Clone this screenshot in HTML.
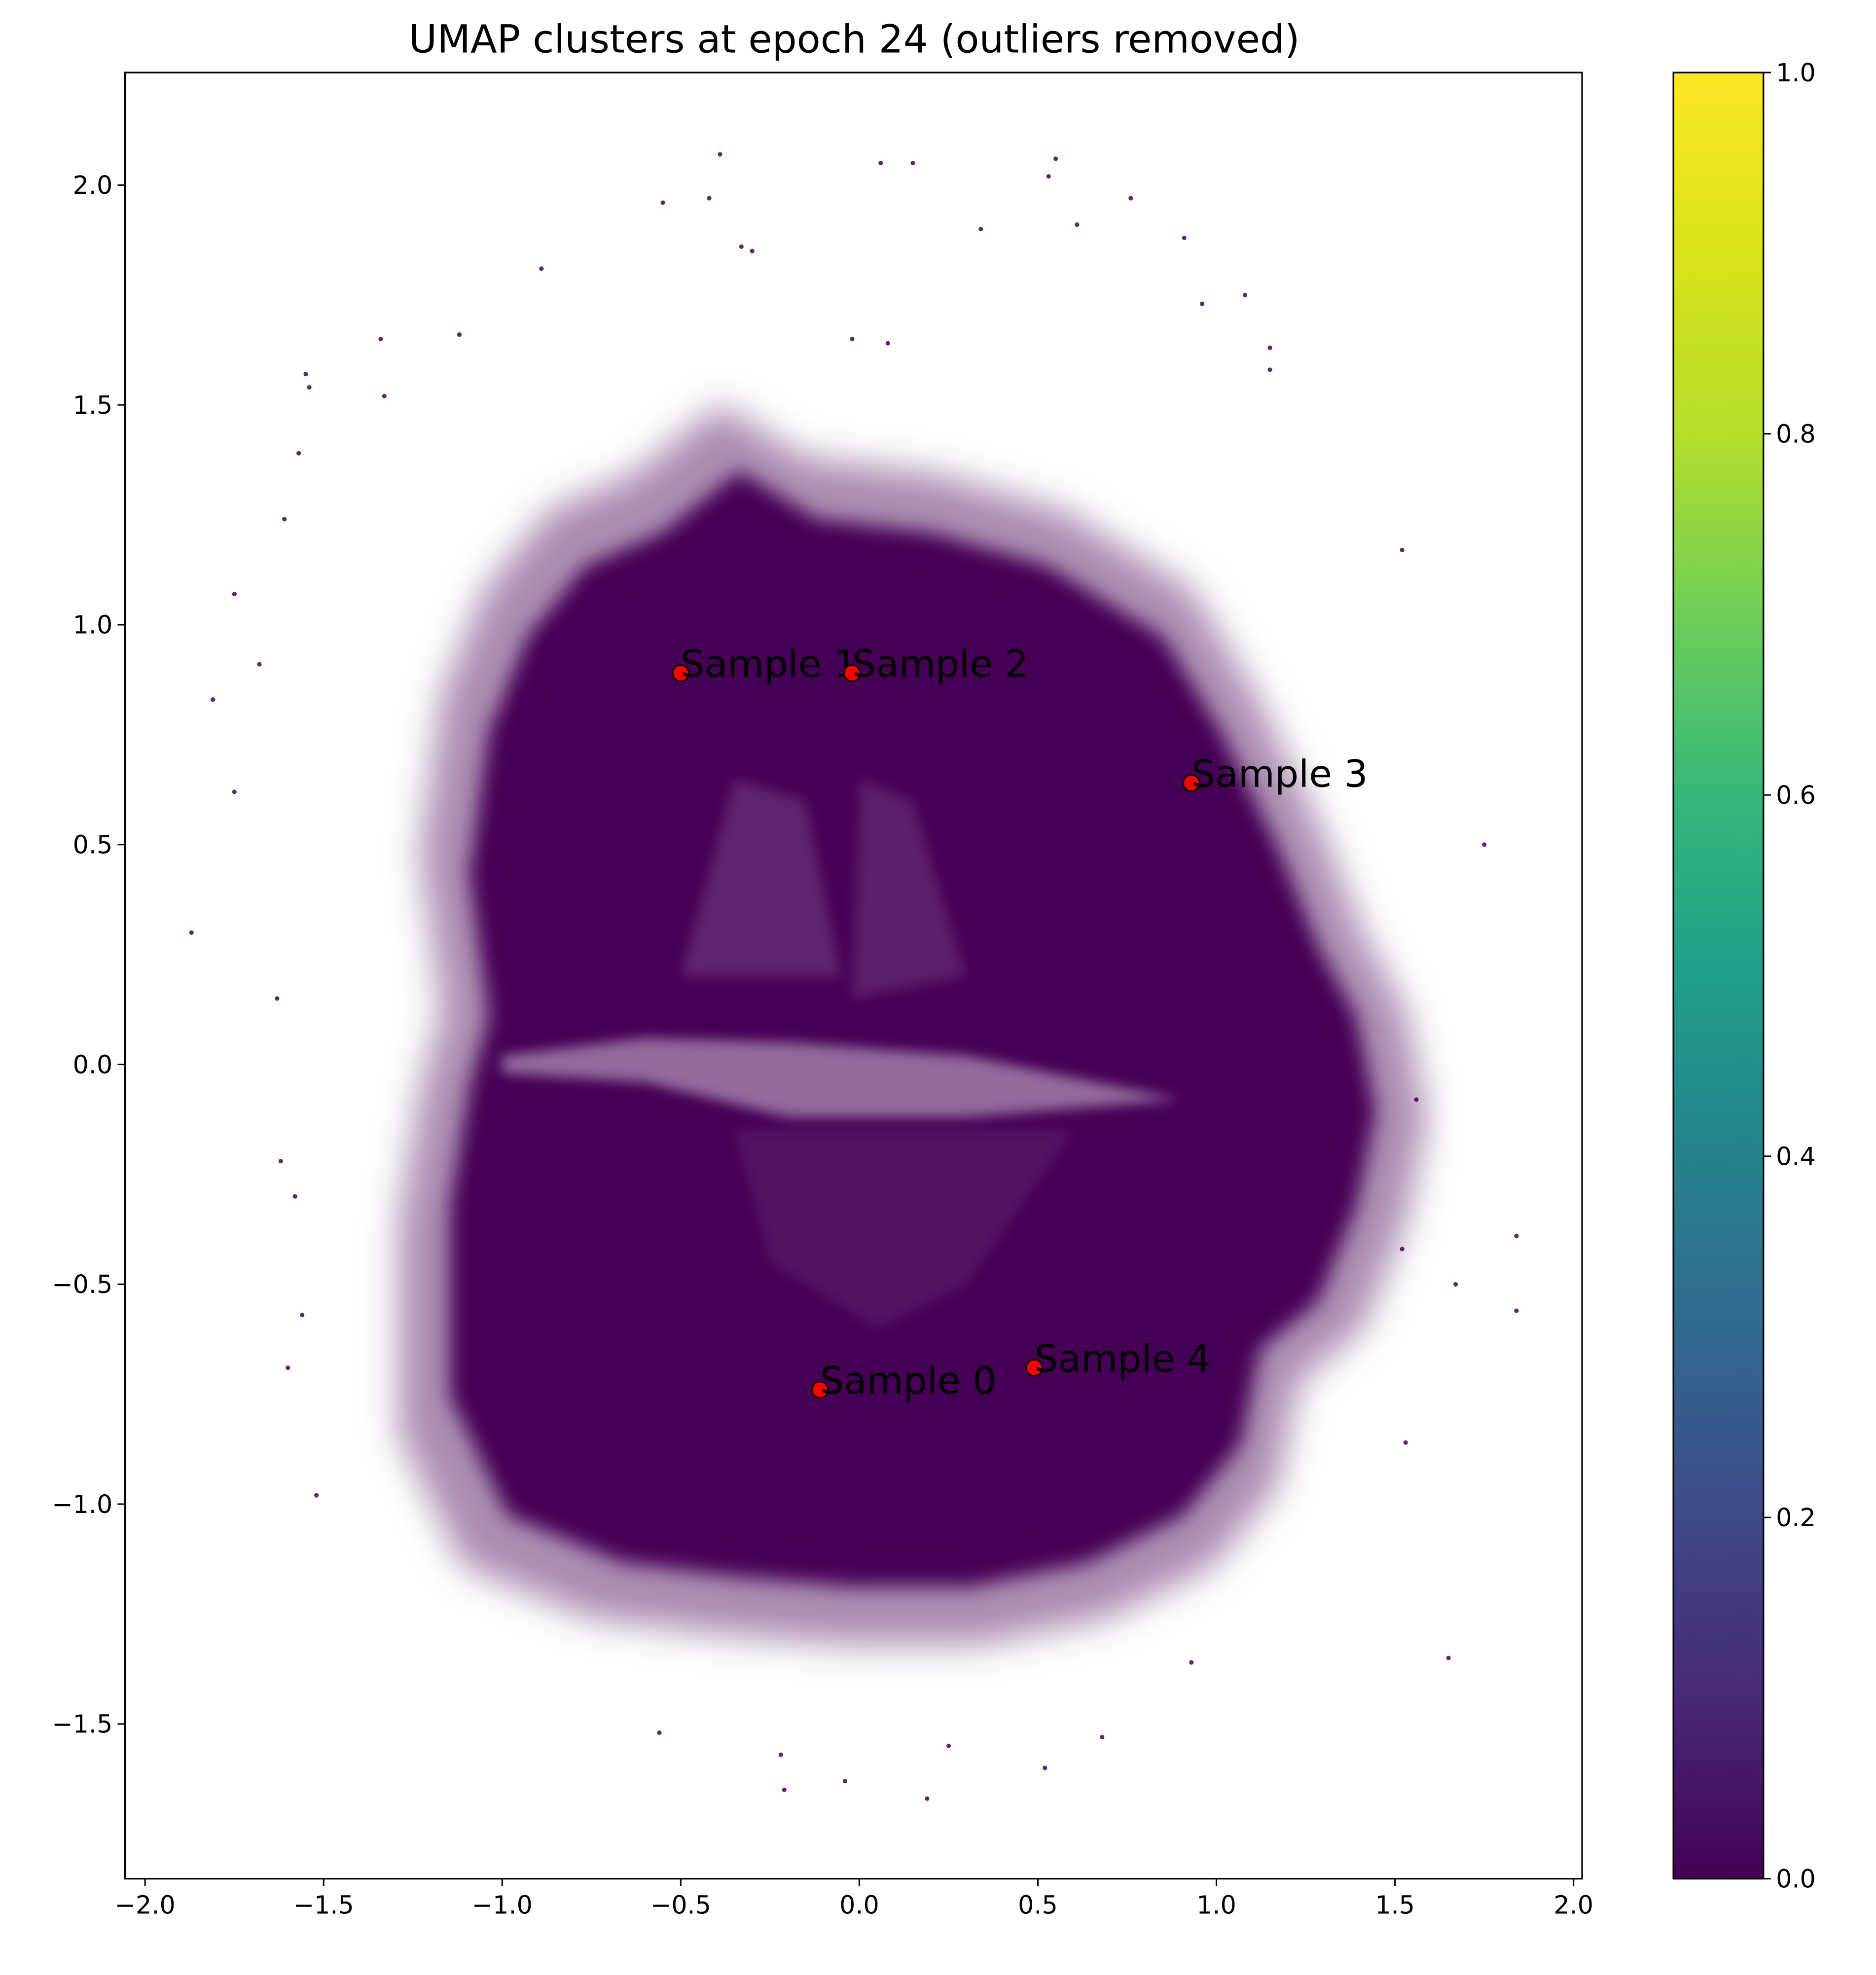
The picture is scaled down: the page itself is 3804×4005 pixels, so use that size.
<!DOCTYPE html>
<html><head><meta charset="utf-8"><style>
html,body{margin:0;padding:0;background:#fff;}
svg{display:block;}
text{font-family:"DejaVu Sans","Liberation Sans",sans-serif;}
</style></head><body>
<svg id="chart" width="3804" height="4005" viewBox="0 0 1500 1579" preserveAspectRatio="none" xmlns="http://www.w3.org/2000/svg">
<defs>
<filter id="blurHalo" x="-20%" y="-20%" width="140%" height="140%"><feGaussianBlur stdDeviation="8"/></filter>
<filter id="blurHalo2" x="-20%" y="-20%" width="140%" height="140%"><feGaussianBlur stdDeviation="14"/></filter>
<filter id="blurCore" x="-10%" y="-10%" width="120%" height="120%"><feGaussianBlur stdDeviation="3"/></filter>
<filter id="blurLight" x="-20%" y="-20%" width="140%" height="140%"><feGaussianBlur stdDeviation="5"/></filter>
<clipPath id="plotClip"><rect x="100" y="58" width="1165" height="1444"/></clipPath>
<linearGradient id="viridis" x1="0" y1="1" x2="0" y2="0">
<stop offset="0" stop-color="#440154"/><stop offset="0.1" stop-color="#482878"/><stop offset="0.2" stop-color="#3e4989"/>
<stop offset="0.3" stop-color="#31688e"/><stop offset="0.4" stop-color="#26828e"/><stop offset="0.5" stop-color="#1f9e89"/>
<stop offset="0.6" stop-color="#35b779"/><stop offset="0.7" stop-color="#6ece58"/><stop offset="0.8" stop-color="#b5de2b"/>
<stop offset="0.9" stop-color="#d8e219"/><stop offset="1" stop-color="#fde725"/>
</linearGradient>
</defs>
<rect x="0" y="0" width="1500" height="1579" fill="#fff"/>
<text x="683" y="42" font-size="31" text-anchor="middle">UMAP clusters at epoch 24 (outliers removed)</text>
<g id="plot" clip-path="url(#plotClip)"></g>
<rect x="100" y="58" width="1165" height="1444" fill="none" stroke="#000" stroke-width="1.3"/>
<g id="xticks"></g>
<g id="yticks"></g>
<rect x="1338" y="58" width="72" height="1444" fill="url(#viridis)" stroke="#000" stroke-width="1.3"/>
<g id="cbticks"></g>
</svg>
<script>
// axis ranges
const xDomain = [-2.056, 2.024];
const yDomain = [-1.852, 2.256];
const xTicks = [-2.0, -1.5, -1.0, -0.5, 0.0, 0.5, 1.0, 1.5, 2.0];
const yTicks = [-1.5, -1.0, -0.5, 0.0, 0.5, 1.0, 1.5, 2.0];
const cbTicks = [0.0, 0.2, 0.4, 0.6, 0.8, 1.0];
// dense cluster outline (data coords)
const coreX = [-0.95,-1.0,-0.95,-0.85,-0.7,-0.5,-0.3,-0.1,0.2,0.5,0.8,0.95,1.1,1.2,1.3,1.35,1.3,1.2,1.05,1.0,0.85,0.6,0.3,0.0,-0.3,-0.6,-0.9,-1.05,-1.05,-1.0];
const coreY = [0.1,0.4,0.7,0.9,1.05,1.12,1.25,1.15,1.12,1.05,0.9,0.7,0.45,0.25,0.1,-0.1,-0.3,-0.5,-0.6,-0.8,-0.95,-1.05,-1.1,-1.1,-1.08,-1.05,-0.95,-0.7,-0.3,-0.05];
// lighter (sparser) interior regions
const gapX = [-1.0,-0.6,-0.2,0.3,0.9,0.3,-0.2,-0.6,-1.0];
const gapY = [0.02,0.06,0.05,0.02,-0.08,-0.12,-0.12,-0.04,-0.02];
const innerLX = [-0.35,-0.15,-0.05,-0.5];
const innerLY = [0.65,0.6,0.2,0.2];
const innerRX = [0.0,0.15,0.3,-0.02];
const innerRY = [0.65,0.6,0.2,0.15];
const lowMidX = [-0.35,0.6,0.3,0.05,-0.25];
const lowMidY = [-0.15,-0.15,-0.5,-0.6,-0.45];
// sparse outlier points
const outX = [-0.39,-0.55,-0.42,-0.30,-0.33,-0.89,-1.34,-1.55,-1.54,-1.33,-1.57,-1.61,-1.75,-1.81,-1.87,-1.75,-1.68,-1.63,-1.62,-1.58,-1.56,-1.52,-1.60,0.06,0.15,0.55,0.53,0.34,0.61,0.76,0.91,1.08,0.96,1.15,1.15,1.52,1.67,1.75,1.84,1.84,1.65,1.53,1.56,1.52,0.52,0.25,-0.22,-0.56,0.68,-0.21,-0.04,0.19,0.93,-1.12,-0.02,0.08];
const outY = [2.07,1.96,1.97,1.85,1.86,1.81,1.65,1.57,1.54,1.52,1.39,1.24,1.07,0.83,0.30,0.62,0.91,0.15,-0.22,-0.30,-0.57,-0.98,-0.69,2.05,2.05,2.06,2.02,1.90,1.91,1.97,1.88,1.75,1.73,1.63,1.58,-0.42,-0.50,0.50,-0.39,-0.56,-1.35,-0.86,-0.08,1.17,-1.60,-1.55,-1.57,-1.52,-1.53,-1.65,-1.63,-1.67,-1.36,1.66,1.65,1.64];
// highlighted samples
const sampleNames = ["Sample 0","Sample 1","Sample 2","Sample 3","Sample 4"];
const sampleX = [-0.11,-0.50,-0.02,0.93,0.49];
const sampleY = [-0.74,0.89,0.89,0.64,-0.69];

const NS = "http://www.w3.org/2000/svg";
const PL=100, PR=1265, PT=58, PB=1502;
const sx = v => PL + (v - xDomain[0]) / (xDomain[1]-xDomain[0]) * (PR-PL);
const sy = v => PB - (v - yDomain[0]) / (yDomain[1]-yDomain[0]) * (PB-PT);
const cy = v => PB - v * (PB-PT);
function mk(tag, attrs, parent){const e=document.createElementNS(NS,tag);for(const k in attrs)e.setAttribute(k,attrs[k]);parent.appendChild(e);return e;}
function pts(xs,ys,scale,cx0,cy0){return xs.map((x,i)=>{const X=cx0+(x-cx0)*scale, Y=cy0+(ys[i]-cy0)*scale;return sx(X).toFixed(1)+","+sy(Y).toFixed(1);}).join(" ");}

const plot=document.getElementById("plot");
const halo2=mk("polygon",{points:pts(coreX,coreY,1.2,0.15,0),fill:"#440154","fill-opacity":"0.45",filter:"url(#blurHalo2)"},plot);


const halo=mk("polygon",{points:pts(coreX,coreY,1.08,0.15,0),fill:"#440154","fill-opacity":"1",filter:"url(#blurHalo)"},plot);


const core=mk("polygon",{points:pts(coreX,coreY,1,0,0),fill:"#440154",filter:"url(#blurCore)"},plot);


[[gapX,gapY,0.42,'gap-band'],[innerLX,innerLY,0.14,'inner-left-region'],[innerRX,innerRY,0.12,'inner-right-region'],[lowMidX,lowMidY,0.08,'lower-mid-region']].forEach(r=>{
  const p=mk("polygon",{points:pts(r[0],r[1],1,0,0),fill:"#fff","fill-opacity":r[2],filter:"url(#blurLight)"},plot);
  
  
});
outX.forEach((x,i)=>{
  const c=mk("circle",{cx:sx(x).toFixed(1),cy:sy(outY[i]).toFixed(1),r:1.8,fill:"#440154","fill-opacity":"0.85"},plot);
  
  
});
const svg=document.getElementById("chart");
sampleX.forEach((x,i)=>{
  const c=mk("circle",{cx:sx(x),cy:sy(sampleY[i]),r:6.5,fill:"#ff0000",stroke:"#000","stroke-width":1.2},svg);
  
  
  const t=mk("text",{x:sx(x),y:sy(sampleY[i])+3,"font-size":30},svg);
  t.textContent=sampleNames[i];
  
  
});
const xg=document.getElementById("xticks");
xTicks.forEach(v=>{
  const X=sx(v);
  const l=mk("line",{x1:X,x2:X,y1:PB,y2:PB+6,stroke:"#000","stroke-width":1.2},xg);
  
  
  const t=mk("text",{x:X,y:PB+28,"font-size":20,"text-anchor":"middle"},xg);
  t.textContent=(v<0?"\u2212":"")+Math.abs(v).toFixed(1);
  
  
});
const yg=document.getElementById("yticks");
yTicks.forEach(v=>{
  const Y=sy(v);
  const l=mk("line",{x1:PL-6,x2:PL,y1:Y,y2:Y,stroke:"#000","stroke-width":1.2},yg);
  
  
  const t=mk("text",{x:PL-10,y:Y+7,"font-size":20,"text-anchor":"end"},yg);
  t.textContent=(v<0?"\u2212":"")+Math.abs(v).toFixed(1);
  
  
});
const cg=document.getElementById("cbticks");
cbTicks.forEach(v=>{
  const Y=cy(v);
  const l=mk("line",{x1:1410,x2:1416,y1:Y,y2:Y,stroke:"#000","stroke-width":1.2},cg);
  
  
  const t=mk("text",{x:1420,y:Y+7,"font-size":20},cg);
  t.textContent=v.toFixed(1);
  
  
});
</script>
</body></html>
